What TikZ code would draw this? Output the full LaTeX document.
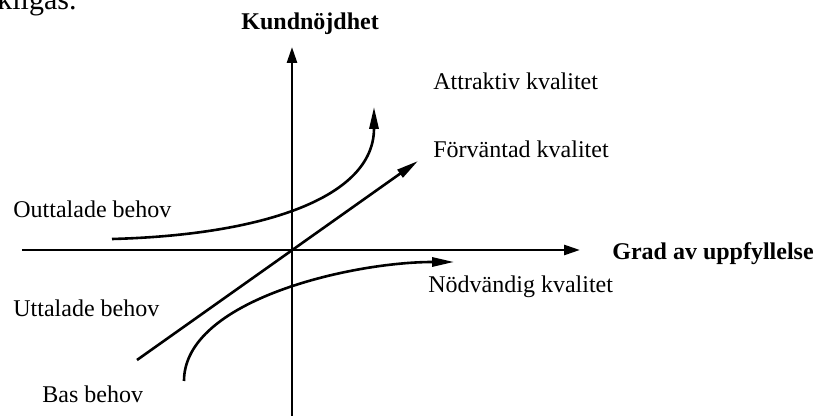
\documentclass[tikz,border=0pt]{standalone}
\usepackage{fontspec}
\setmainfont{Liberation Serif}
\usetikzlibrary{arrows.meta}

\begin{document}
\begin{tikzpicture}[x=0.5pt,y=0.5pt,font=\fontsize{12pt}{14pt}\selectfont,
  axis/.style={line width=1.3pt,-{Triangle[length=8pt,width=5pt]}},
  curve/.style={line width=1.3pt,-{Triangle[length=11pt,width=4.6pt]}},
  label/.style={anchor=base west,inner sep=0pt}]

% --- Ram (bildens marginaler)
\useasboundingbox (-292,-166) rectangle (522,250);

% --- Fortsattning av texten ovanfor
\node[label,font=\fontsize{15pt}{18pt}\selectfont] (rest) at (-295,240) {kligas.};

% ================== Axlar ==================
\coordinate (O) at (0,0);
\coordinate (ybot) at (0,-172);
\coordinate (ytop) at (0,203);
\coordinate (xleft) at (-270,0);
\coordinate (xright) at (288,0);
\draw[axis] (ybot) -- (ytop);
\draw[axis] (xleft) -- (xright);

\node[label,font=\fontsize{12pt}{14pt}\selectfont\bfseries] (ylab) at (-51,220) {Kundnöjdhet};
\node[label,font=\fontsize{12pt}{14pt}\selectfont\bfseries] (xlab) at (320,-10) {Grad av uppfyllelse};

% ================== Kurvor ==================
% Attraktiv kvalitet
\coordinate (a0) at (-180,11);
\coordinate (a1) at (82,143);
\draw[curve] (a0) .. controls (-30,15) and (82,52) .. (a1);

% Forvantad kvalitet (rak linje genom origo)
\coordinate (f0) at (-155,-110);
\coordinate (f1) at (126,89);
\draw[curve] (f0) -- (f1);

% Nodvandig kvalitet
\coordinate (n0) at (-108,-131);
\coordinate (n1) at (162,-12);
\draw[curve] (n0) .. controls (-108,-50) and (60,-12) .. (n1);

% ================== Etiketter ==================
\node[label] (attr) at (141,160) {Attraktiv kvalitet};
\node[label] (forv) at (141,92) {Förväntad kvalitet};
\node[label] (nodv) at (136,-43) {Nödvändig kvalitet};
\node[label] (outt) at (-279,32) {Outtalade behov};
\node[label] (utt)  at (-279,-67) {Uttalade behov};
\node[label] (bas)  at (-250,-153) {Bas behov};

\end{tikzpicture}
\end{document}
